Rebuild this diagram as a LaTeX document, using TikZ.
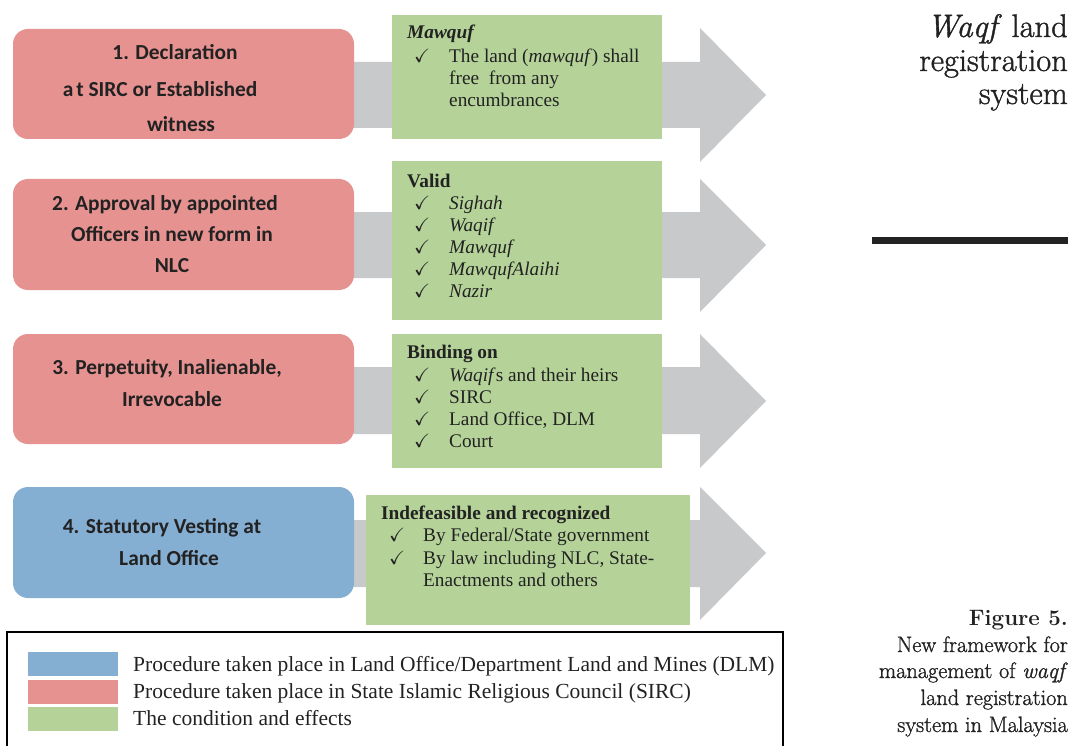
\documentclass[tikz,border=0pt]{standalone}
\usepackage{amssymb}
\usepackage{fontspec}
\setmainfont{Liberation Serif}
\newfontfamily\boxfont{Carlito}
\newfontfamily\lmfont[FakeBold=1.2]{Latin Modern Roman}
\newfontfamily\lmbold{Latin Modern Roman}
\definecolor{sircred}{HTML}{E69290}
\definecolor{dlmblue}{HTML}{85AED3}
\definecolor{effgreen}{HTML}{B5D399}
\definecolor{arrowgray}{HTML}{C8C9CB}
\definecolor{txt}{HTML}{222222}
\tikzset{
  redbox/.style={fill=sircred, draw=none, rounded corners=15pt, inner sep=0pt},
  bluebox/.style={fill=dlmblue, draw=none, rounded corners=15pt, inner sep=0pt},
  greenbox/.style={fill=effgreen, draw=none, inner sep=0pt},
  bigarrow/.style={fill=arrowgray, draw=none},
  boxtext/.style={font=\boxfont\fontsize{21.4}{25}\selectfont\bfseries, text=txt, inner sep=0pt, anchor=base},
  gtext/.style={font=\fontsize{19.3}{22}\selectfont, text=txt, inner sep=0pt, anchor=base west},
  ghead/.style={gtext, font=\fontsize{19.3}{22}\selectfont\bfseries},
  legtext/.style={font=\fontsize{21.5}{24}\selectfont, text=txt, inner sep=0pt, anchor=base west},
  swatch/.style={draw=none, inner sep=0pt, minimum width=90pt, minimum height=24pt, anchor=north west},
  sidetext/.style={font=\lmfont\fontsize{32.5}{36}\selectfont, text=txt, inner sep=0pt, anchor=base east},
  captext/.style={font=\lmfont\fontsize{22.3}{26}\selectfont, text=txt, inner sep=0pt, anchor=base east},
}
\newcommand{\ck}{$\checkmark$}
\begin{document}
\begin{tikzpicture}[x=1pt,y=-1pt]
\useasboundingbox (0,0) rectangle (1070,746);
% gray arrows
\foreach \sa/\sb/\ha/\hb/\tp in {62/128/28/162/95, 212/278/179/312/245, 367/434/334/468/401, 520/587/487/620/553}{
  \fill[bigarrow] (340,\sa) -- (700,\sa) -- (700,\ha) -- (766,\tp) -- (700,\hb) -- (700,\sb) -- (340,\sb) -- cycle;
}
% left boxes
\node[redbox, minimum width=341pt, minimum height=110pt] (r1) at (183.5,84) {};
\node[redbox, minimum width=341pt, minimum height=111pt] (r2) at (183.5,234.5) {};
\node[redbox, minimum width=341pt, minimum height=110pt] (r3) at (183.5,389) {};
\node[bluebox, minimum width=341pt, minimum height=111pt] (r4) at (183.5,542.5) {};
% green boxes
\node[greenbox, minimum width=270pt, minimum height=124pt] (g1) at (527,77) {};
\node[greenbox, minimum width=270pt, minimum height=159pt] (g2) at (527,240.5) {};
\node[greenbox, minimum width=270pt, minimum height=134pt] (g3) at (527,401) {};
\node[greenbox, minimum width=324pt, minimum height=130pt] (g4) at (528,560) {};
% red box texts
\node[boxtext] (r1a) at (175,60) {1. Declaration};
\node[boxtext] (r1b) at (160,97) {a\hspace{3pt}t SIRC or Established};
\node[boxtext] (r1c) at (181,132) {witness};
\node[boxtext] (r2a) at (165,211) {2. Approval by appointed};
\node[boxtext] (r2b) at (172,241) {Officers in new form in};
\node[boxtext] (r2c) at (172,272) {NLC};
\node[boxtext] (r3a) at (167,374) {3. Perpetuity, Inalienable,};
\node[boxtext] (r3b) at (172,406) {Irrevocable};
\node[boxtext] (r4a) at (162,533) {4. Statutory Vesting at};
\node[boxtext] (r4b) at (169,565) {Land Office};
% green texts row 1
\node[ghead] (g1h) at (407,39) {\textit{Mawquf}};
\node[gtext] (g1c1) at (414,63) {\ck};
\node[gtext] (g1t1) at (449,63) {The land (\textit{mawquf}) shall};
\node[gtext] (g1t2) at (449,85) {free\ \ from any};
\node[gtext] (g1t3) at (449,107) {encumbrances};
% row 2
\node[ghead] (g2h) at (407,187) {Valid};
\foreach \y/\w [count=\i] in {209/Sighah, 231/Waqif, 253/Mawquf, 275/MawqufAlaihi, 297/Nazir}{
  \node[gtext] (g2c\i) at (414,\y) {\ck};
  \node[gtext] (g2t\i) at (449,\y) {\textit{\w}};
}
% row 3
\node[ghead] (g3h) at (407,358) {Binding on};
\node[gtext] (g3c1) at (414,381) {\ck};
\node[gtext] (g3t1) at (449,381) {\textit{Waqif}s and their heirs};
\node[gtext] (g3c2) at (414,403) {\ck};
\node[gtext] (g3t2) at (449,403) {SIRC};
\node[gtext] (g3c3) at (414,425) {\ck};
\node[gtext] (g3t3) at (449,425) {Land Office, DLM};
\node[gtext] (g3c4) at (414,447) {\ck};
\node[gtext] (g3t4) at (449,447) {Court};
% row 4
\node[ghead] (g4h) at (381,519) {Indefeasible and recognized};
\node[gtext] (g4c1) at (389,541) {\ck};
\node[gtext] (g4t1) at (423,541) {By Federal/State government};
\node[gtext] (g4c2) at (389,564) {\ck};
\node[gtext] (g4t2) at (423,564) {By law including NLC, State-};
\node[gtext] (g4t3) at (423,586) {Enactments and others};
% legend
\draw[line width=1.5pt, black] (7,750) -- (7,632) -- (783,632) -- (783,750);
\node[swatch, fill=dlmblue] (s1) at (28,652) {};
\node[swatch, fill=sircred] (s2) at (28,680) {};
\node[swatch, fill=effgreen] (s3) at (28,707) {};
\node[legtext] (l1) at (133,671) {Procedure taken place in Land Office/Department Land and Mines (DLM)};
\node[legtext] (l2) at (133,698) {Procedure taken place in State Islamic Religious Council (SIRC)};
\node[legtext] (l3) at (133,725) {The condition and effects};
% right column
\node[sidetext] (t1) at (1068,37) {\textit{Waqf} land};
\node[sidetext] (t2) at (1068,71) {registration};
\node[sidetext] (t3) at (1068,104) {system};
\fill[txt] (872,237) rectangle (1068,244);
\node[captext, font=\lmbold\fontsize{22.3}{26}\selectfont\bfseries] (c0) at (1068,625) {Figure 5.};
\node[captext] (c1) at (1068,652) {New framework for};
\node[captext] (c2) at (1068,678) {management of \textit{waqf}};
\node[captext] (c3) at (1068,705) {land registration};
\node[captext] (c4) at (1068,732) {system in Malaysia};
\end{tikzpicture}
\end{document}
